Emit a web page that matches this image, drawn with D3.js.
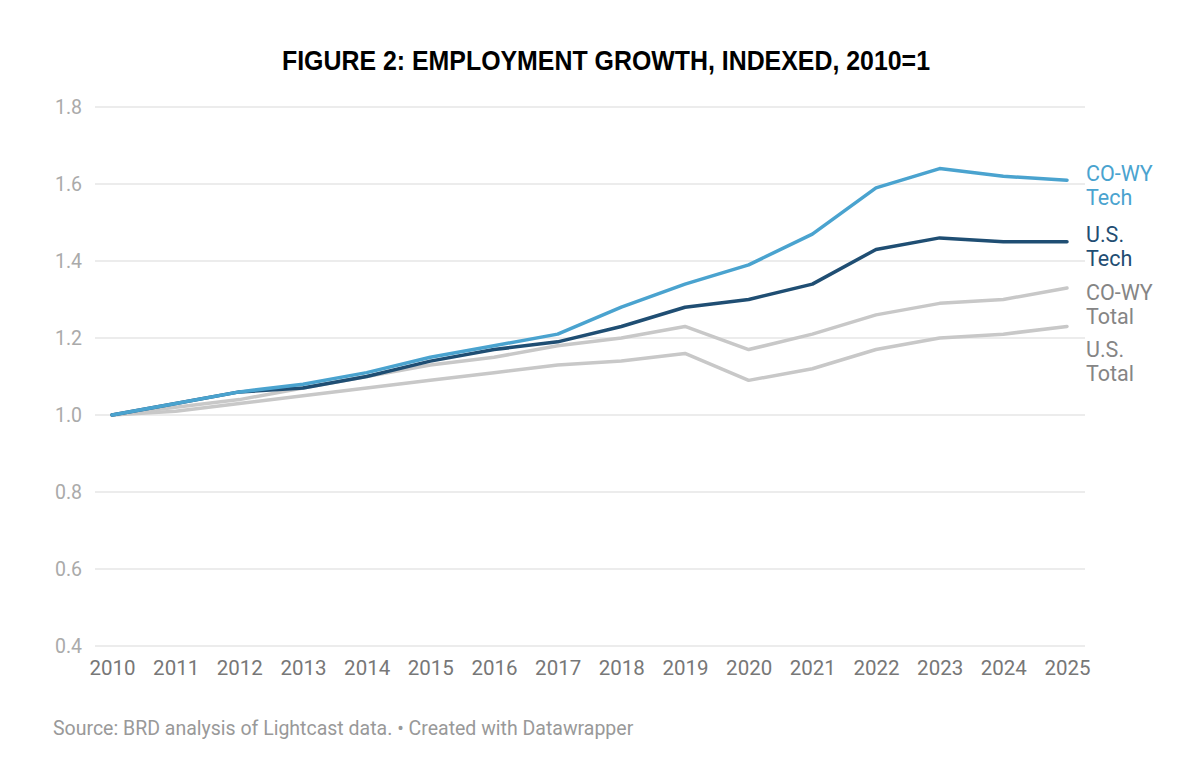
<!DOCTYPE html>
<html>
<head>
<meta charset="utf-8">
<title>Employment growth, indexed</title>
<script src="https://cdn.jsdelivr.net/npm/d3@7"></script>
<style>
  body { margin: 0; background: #fff; }
  text { font-family: Roboto, "Noto Sans", sans-serif; }
</style>
</head>
<body>
<div id="chart"></div>
<script>
// values
var years = [2010, 2011, 2012, 2013, 2014, 2015, 2016, 2017, 2018, 2019, 2020, 2021, 2022, 2023, 2024, 2025];
var cowyTech  = [1.00, 1.03, 1.06, 1.08, 1.11, 1.15, 1.18, 1.21, 1.28, 1.34, 1.39, 1.47, 1.59, 1.64, 1.62, 1.61];
var usTech    = [1.00, 1.03, 1.06, 1.07, 1.10, 1.14, 1.17, 1.19, 1.23, 1.28, 1.30, 1.34, 1.43, 1.46, 1.45, 1.45];
var cowyTotal = [1.00, 1.02, 1.04, 1.07, 1.10, 1.13, 1.15, 1.18, 1.20, 1.23, 1.17, 1.21, 1.26, 1.29, 1.30, 1.33];
var usTotal   = [1.00, 1.01, 1.03, 1.05, 1.07, 1.09, 1.11, 1.13, 1.14, 1.16, 1.09, 1.12, 1.17, 1.20, 1.21, 1.23];
var yTicks = [0.4, 0.6, 0.8, 1.0, 1.2, 1.4, 1.6, 1.8];

var series = [
  { name: ["U.S.", "Total"],  values: usTotal,   color: "#c8c8c8", text: "#858585" },
  { name: ["CO-WY", "Total"], values: cowyTotal, color: "#c8c8c8", text: "#858585" },
  { name: ["U.S.", "Tech"],   values: usTech,    color: "#1f4e73", text: "#1f4e73" },
  { name: ["CO-WY", "Tech"],  values: cowyTech,  color: "#4aa3cf", text: "#4aa3cf" }
];

var width = 1204, height = 766;
var svg = d3.select("#chart").append("svg")
    .attr("width", width).attr("height", height);

var x = d3.scaleLinear().domain([2010, 2025]).range([112, 1067]);
var y = d3.scaleLinear().domain([0.4, 1.8]).range([646, 107]);

// title font is a condensed bold, squeeze a normal bold to the same width
svg.append("text")
    .attr("x", 282).attr("y", 70)
    .attr("textLength", 648)
    .attr("lengthAdjust", "spacingAndGlyphs")
    .style("font-family", "'Liberation Sans', Arial, sans-serif")
    .style("font-weight", "bold")
    .style("font-size", "28px")
    .attr("fill", "#000")
    .text("FIGURE 2: EMPLOYMENT GROWTH, INDEXED, 2010=1");

// gridlines + y labels
var gy = svg.append("g");
gy.selectAll("line").data(yTicks).enter().append("line")
    .attr("x1", 95).attr("x2", 1085)
    .attr("y1", function(d) { return y(d); })
    .attr("y2", function(d) { return y(d); })
    .attr("stroke", "#e6e6e6").attr("stroke-width", 1.5);
gy.selectAll("text").data(yTicks).enter().append("text")
    .attr("x", 82).attr("y", function(d) { return y(d) + 7; })
    .attr("text-anchor", "end")
    .attr("fill", "#aaaaaa")
    .style("font-size", "19.5px")
    .text(function(d) { return d3.format(".1f")(d); });

// x axis labels
var xAxis = d3.axisBottom(x).tickValues(years).tickFormat(d3.format("d")).tickSize(0).tickPadding(0);
var gx = svg.append("g").attr("transform", "translate(0,660)").call(xAxis);
gx.select(".domain").remove();
gx.selectAll("text")
    .attr("dy", "0.71em")
    .attr("fill", "#777777")
    .style("font-size", "20.5px")
    .style("font-family", "Roboto, sans-serif");

var line = d3.line()
    .x(function(d, i) { return x(years[i]); })
    .y(function(d) { return y(d); });

svg.selectAll("path.series").data(series).enter().append("path")
    .attr("class", "series")
    .attr("d", function(d) { return line(d.values); })
    .attr("fill", "none")
    .attr("stroke", function(d) { return d.color; })
    .attr("stroke-width", 3.5)
    .attr("stroke-linejoin", "round")
    .attr("stroke-linecap", "round");

// end labels, pushed down so they don't overlap
var labels = series.slice().sort(function(a, b) {
  return a.values[a.values.length - 1] < b.values[b.values.length - 1] ? 1 : -1;
});
var prev = -Infinity;
labels.forEach(function(s) {
  var b = Math.max(y(s.values[s.values.length - 1]) + 0.5, prev + 57.3);
  s.labelY = b;
  prev = b;
});
var lab = svg.selectAll("text.lab").data(labels).enter().append("text")
    .attr("class", "lab")
    .attr("x", 1086)
    .attr("y", function(d) { return d.labelY; })
    .attr("fill", function(d) { return d.text; })
    .style("font-size", "21.5px");
lab.selectAll("tspan").data(function(d) { return d.name; }).enter().append("tspan")
    .attr("x", 1086)
    .attr("dy", function(d, i) { return i ? 24 : 0; })
    .text(function(d) { return d; });

svg.append("text")
    .attr("x", 53).attr("y", 735)
    .attr("fill", "#999999")
    .style("font-size", "19.5px")
    .text("Source: BRD analysis of Lightcast data. \u2022 Created with Datawrapper");
</script>
</body>
</html>
